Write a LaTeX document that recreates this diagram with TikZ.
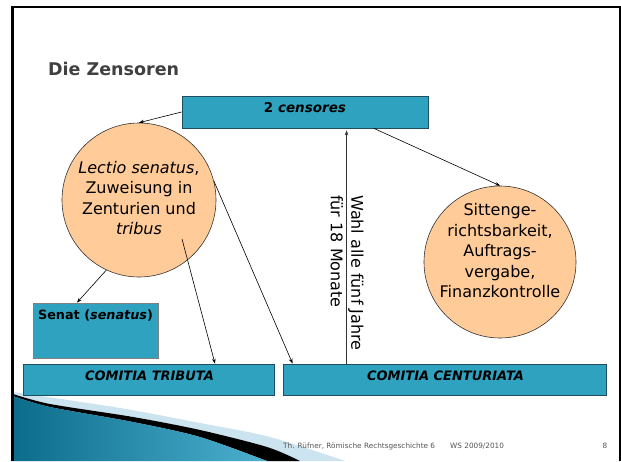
\documentclass[tikz,border=0pt]{standalone}
\usepackage{fontspec}
\setmainfont{DejaVu Sans}
\usetikzlibrary{arrows.meta,calc}
\definecolor{boxblue}{HTML}{2EA2BF}
\definecolor{boxline}{HTML}{1F4F5E}
\definecolor{peach}{HTML}{FFCC99}
\definecolor{titlegray}{HTML}{404040}
\definecolor{footgray}{HTML}{555555}
\definecolor{hatch}{HTML}{CBE4EF}
\definecolor{wedgedark}{HTML}{0C6C8C}
\definecolor{wedgelight}{HTML}{4DB0CF}
\begin{document}
\begin{tikzpicture}[x=1pt,y=-1pt,
  box/.style={rectangle, draw=boxline, fill=boxblue, line width=0.8pt, inner sep=0pt},
  circ/.style={circle, draw=black!80, fill=peach, line width=0.6pt, inner sep=0pt, minimum size=154pt},
  ctext/.style={align=center, font=\fontsize{16}{20.5}\selectfont, inner sep=0pt},
  btext/.style={font=\fontsize{13}{15}\selectfont\bfseries\itshape, inner sep=0pt},
  footer/.style={font=\fontsize{7.3}{9}\selectfont, text=footgray, inner sep=0pt},
  arr/.style={-{Stealth[length=5pt,width=3.6pt]}, line width=0.6pt, black}]
\useasboundingbox (0,0) rectangle (621,461);
\fill[white] (0,0) rectangle (621,461);
% bottom-left decoration
\fill[hatch] plot[smooth] coordinates {(13,392) (120,408) (200,423) (270,437) (345,461)} -- (13,461) -- cycle;
\fill[black] plot[smooth] coordinates {(13,394) (50,404) (133,417) (200,430) (267,447) (300,461)} -- (267,461) -- plot[smooth] coordinates {(267,461) (200,437) (133,422) (50,407) (13,396)} -- cycle;
\shade[left color=wedgedark, right color=wedgelight] plot[smooth] coordinates {(13,396) (50,407) (133,422) (200,437) (267,461)} -- (13,461) -- cycle;
% frame
\draw[line width=3pt] (12.5,461) -- (12.5,5.5);
\draw[line width=2pt] (11,6.5) -- (621,6.5);
\draw[line width=1.5pt] (619.8,6) -- (619.8,461);
% title
\node[anchor=west, font=\fontsize{17.5}{20}\selectfont\bfseries, text=titlegray, inner sep=0pt] (title) at (48,69) {Die Zensoren};
% boxes
\node[box, minimum width=246pt, minimum height=32pt] (topbox) at (305,112) {};
\node[font=\fontsize{13.5}{16}\selectfont\bfseries, inner sep=0pt] (toptext) at (305,108) {2 \textit{censores}};
\node[box, draw=gray, minimum width=125pt, minimum height=55pt] (senat) at (95.5,330.5) {};
\node[font=\fontsize{12.8}{15}\selectfont\bfseries, inner sep=0pt] (senattext) at (95.5,315) {Senat (\textit{senatus})};
\node[box, minimum width=251pt, minimum height=31pt] (ct) at (148.5,379.5) {};
\node[btext] (cttext) at (149.5,376) {COMITIA TRIBUTA};
\node[box, minimum width=323pt, minimum height=31pt] (cc) at (444.5,379.5) {};
\node[btext] (cctext) at (445.5,376) {COMITIA CENTURIATA};
% circles
\node[circ] (lc) at (139,200) {};
\node[ctext] (lct) at (139,198) {\textit{Lectio senatus},\\Zuweisung in\\Zenturien und\\\textit{tribus}};
\node[circ, minimum size=152pt] (rc) at (500,262) {};
\node[ctext] (rct) at (500,251) {Sittenge-\\richtsbarkeit,\\Auftrags-\\vergabe,\\Finanzkontrolle};
% arrows
\draw[arr] (topbox.west) -- (lc.north);
\draw[arr] ($(topbox.south)+(69,0)$) -- (rc.north);
\draw[arr] (lc.245) -- ($(senat.north)+(-18.5,0)$);
\draw[arr] ($(lc.center)+(43,39)$) -- ($(ct.north)+(66.5,0)$);
\draw[arr] (lc.14) -- ($(cc.north west)+(10,0)$);
\coordinate (vbase) at ($(cc.north west)+(64,0)$);
\draw[arr, black!80] (vbase) -- ($(vbase |- topbox.south)+(0,2)$);
\node[ctext, rotate=-90, anchor=west, align=left] (wahl) at (347,195) {Wahl alle fünf Jahre\\für 18 Monate};
% footer
\node[footer, anchor=west] (f1) at (283,446) {Th. Rüfner, Römische Rechtsgeschichte 6};
\node[footer, anchor=west] (f2) at (450,446) {WS 2009/2010};
\node[footer] (f3) at (605,446) {8};
\end{tikzpicture}
\end{document}
